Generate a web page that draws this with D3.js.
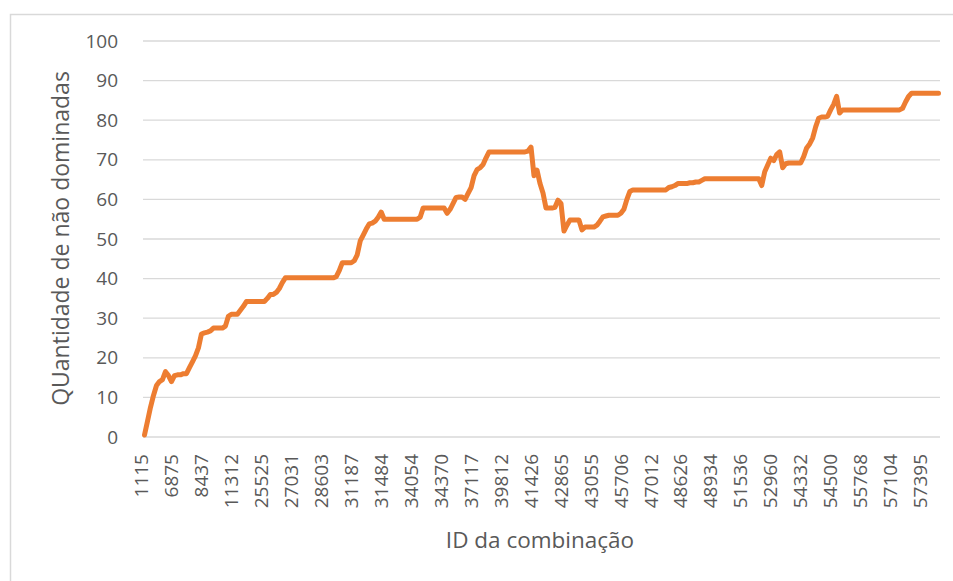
<!DOCTYPE html>
<html><head><meta charset="utf-8">
<script src="https://cdn.jsdelivr.net/npm/d3@7"></script>
<style>
body{margin:0;background:#fff}
svg text{font-family:"Open Sans",sans-serif;fill:#595959}
</style>
</head><body>
<svg id="c" width="953" height="581"></svg>
<script>
const xTickLabels = ["1115","6875","8437","11312","25525","27031","28603","31187","31484","34054","34370","37117","39812","41426","42865","43055","45706","47012","48626","48934","51536","52960","54332","54500","55768","57104","57395"];
const yTickValues = [0,10,20,30,40,50,60,70,80,90,100];
const values = [
  0.5, 4, 7.5, 10.5, 13, 14, 14.5, 16.5, 15.5, 14,
  15.5, 15.7, 15.7, 16, 16, 17.5, 19, 20.5, 22.5, 26,
  26.3, 26.5, 26.8, 27.5, 27.5, 27.5, 27.5, 28, 30.5, 31,
  31, 31, 32, 33, 34.2, 34.2, 34.2, 34.2, 34.2, 34.2,
  34.2, 35, 36, 36, 36.5, 37.5, 39, 40.2, 40.2, 40.2,
  40.2, 40.2, 40.2, 40.2, 40.2, 40.2, 40.2, 40.2, 40.2, 40.2,
  40.2, 40.2, 40.2, 40.2, 40.5, 42, 44, 44, 44, 44,
  44.5, 46, 49.5, 51, 52.5, 53.8, 54, 54.5, 55.5, 56.8,
  55, 55, 55, 55, 55, 55, 55, 55, 55, 55,
  55, 55, 55.5, 57.8, 57.8, 57.8, 57.8, 57.8, 57.8, 57.8,
  57.8, 56.5, 57.5, 59, 60.5, 60.6, 60.6, 60, 61.5, 63,
  66, 67.5, 68, 68.8, 70.5, 72, 72, 72, 72, 72,
  72, 72, 72, 72, 72, 72, 72, 72, 72.2, 73.2,
  66, 67.4, 64, 61.6, 57.8, 57.8, 57.8, 58, 59.8, 59,
  52, 53.5, 54.8, 54.8, 54.8, 54.8, 52.3, 53, 53, 53,
  53, 53.5, 54.5, 55.6, 55.8, 56, 56, 56, 56, 56.5,
  57.5, 60, 62, 62.4, 62.4, 62.4, 62.4, 62.4, 62.4, 62.4,
  62.4, 62.4, 62.4, 62.4, 62.4, 63, 63.2, 63.5, 64, 64,
  64, 64, 64.2, 64.2, 64.4, 64.4, 64.8, 65.2, 65.2, 65.2,
  65.2, 65.2, 65.2, 65.2, 65.2, 65.2, 65.2, 65.2, 65.2, 65.2,
  65.2, 65.2, 65.2, 65.2, 65.2, 65.2, 63.5, 67, 68.7, 70.4,
  69.8, 71.3, 72, 68, 69, 69.2, 69.2, 69.2, 69.2, 69.2,
  70.8, 73, 74, 75.5, 78.3, 80.5, 80.8, 80.8, 81, 82.6,
  84, 86, 81.8, 82.6, 82.6, 82.6, 82.6, 82.6, 82.6, 82.6,
  82.6, 82.6, 82.6, 82.6, 82.6, 82.6, 82.6, 82.6, 82.6, 82.6,
  82.6, 82.6, 82.6, 83, 84.6, 86, 86.8, 86.8, 86.8, 86.8,
  86.8, 86.8, 86.8, 86.8, 86.8, 86.8
];
const labelEvery = 10;

const svg = d3.select("#c");
const plot = {left:143, right:940, top:41, bottom:437};

// chart area border
svg.append("rect").attr("x",10.5).attr("y",14.5).attr("width",1000).attr("height",700)
  .attr("fill","none").attr("stroke","#d9d9d9").attr("stroke-width",1.5);

const x = d3.scaleBand().domain(d3.range(values.length)).range([plot.left, plot.right]);
const y = d3.scaleLinear().domain([0,100]).range([plot.bottom, plot.top]);

// gridlines
svg.append("g").selectAll("line").data(yTickValues).join("line")
  .attr("x1",plot.left).attr("x2",plot.right)
  .attr("y1",d=>y(d)).attr("y2",d=>y(d))
  .attr("stroke","#d9d9d9").attr("stroke-width",1.3);

// y axis
const gy = svg.append("g").attr("transform",`translate(${plot.left},0)`)
  .call(d3.axisLeft(y).tickValues(yTickValues).tickSize(0).tickPadding(25));
gy.select(".domain").remove();
gy.attr("font-family",null).attr("font-size",null);
gy.selectAll("text").attr("font-size",19).style("fill","#595959");

// x axis
const gx = svg.append("g").attr("transform",`translate(0,${plot.bottom})`)
  .call(d3.axisBottom(x).tickValues(d3.range(0, values.length, labelEvery))
    .tickFormat((d,i)=>xTickLabels[i]).tickSize(0));
gx.select(".domain").remove();
gx.attr("font-family",null).attr("font-size",null);
gx.selectAll("text").attr("font-size",19).style("fill","#595959")
  .attr("transform","rotate(-90)").attr("text-anchor","end")
  .attr("x",-17).attr("y",-3).attr("dy","0.35em");

// line
const line = d3.line().x((d,i)=>x(i)+x.bandwidth()/2).y(d=>y(d));
svg.append("path").datum(values).attr("d",line)
  .attr("fill","none").attr("stroke","#ED7D31").attr("stroke-width",5)
  .attr("stroke-linejoin","round").attr("stroke-linecap","round");

// titles
svg.append("text").attr("x",540).attr("y",548).attr("text-anchor","middle")
  .attr("font-size",22.5).text("ID da combinação");
svg.append("text").attr("transform","translate(69,238.5) rotate(-90)").attr("text-anchor","middle")
  .attr("font-size",23).text("QUantidade de não dominadas");
</script>
</body></html>
